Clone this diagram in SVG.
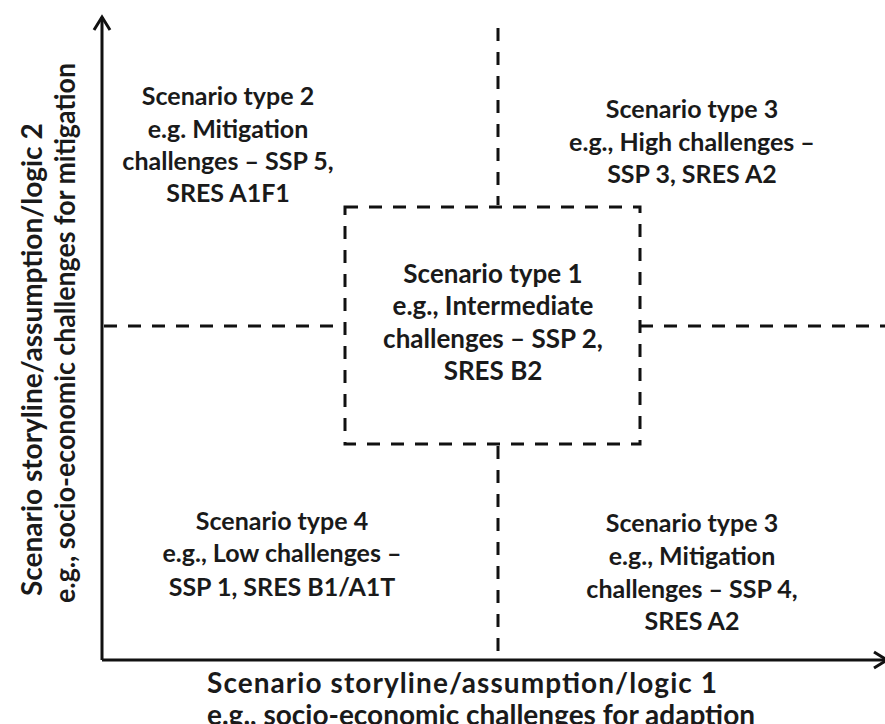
<svg xmlns="http://www.w3.org/2000/svg" width="885" height="724" viewBox="0 0 885 724">
<style>
.t{font-family:Lato,"Liberation Sans",sans-serif;font-weight:bold;font-size:25px;fill:#1a1a1a;text-anchor:middle}
.t1{font-size:26px}
.ax{font-family:Lato,"Liberation Sans",sans-serif;font-weight:bold;font-size:28px;fill:#1a1a1a}
.d{stroke:#111;stroke-width:3;fill:none;stroke-dasharray:13 11}
.a{stroke:#111;stroke-width:3;fill:none}
</style>
<defs>
<marker id="arr" viewBox="0 0 20 20" refX="17" refY="10" markerWidth="20" markerHeight="20" markerUnits="userSpaceOnUse" orient="auto">
<path d="M4 2 L17 10 L4 18" fill="none" stroke="#111" stroke-width="3"/>
</marker>
</defs>
<rect width="885" height="724" fill="#fff"/>
<g id="connectors">
<line class="a" x1="102" y1="660" x2="102" y2="17" marker-end="url(#arr)"/>
<line class="a" x1="102" y1="660" x2="887" y2="660" marker-end="url(#arr)"/>
<line class="d" x1="498" y1="28" x2="498" y2="205"/>
<line class="d" x1="498" y1="446" x2="498" y2="658"/>
<line class="d" x1="104" y1="326" x2="345" y2="326"/>
<line class="d" x1="640" y1="326" x2="885" y2="326"/>
</g>
<g id="type1">
<rect class="d" x="345" y="207" width="295" height="237"/>
<text class="t t1"><tspan x="493" y="283">Scenario type 1</tspan><tspan x="493" y="315">e.g., Intermediate</tspan><tspan x="493" y="348">challenges – SSP 2,</tspan><tspan x="493" y="380">SRES B2</tspan></text>
</g>
<g id="type2">
<text class="t"><tspan x="228" y="105">Scenario type 2</tspan><tspan x="228" y="138">e.g. Mitigation</tspan><tspan x="228" y="170">challenges – SSP 5,</tspan><tspan x="228" y="202">SRES A1F1</tspan></text>
</g>
<g id="type3top">
<text class="t"><tspan x="692" y="118">Scenario type 3</tspan><tspan x="692" y="151">e.g., High challenges –</tspan><tspan x="692" y="183">SSP 3, SRES A2</tspan></text>
</g>
<g id="type4">
<text class="t"><tspan x="282" y="530">Scenario type 4</tspan><tspan x="282" y="562">e.g., Low challenges –</tspan><tspan x="282" y="596">SSP 1, SRES B1/A1T</tspan></text>
</g>
<g id="type3bottom">
<text class="t"><tspan x="692" y="532">Scenario type 3</tspan><tspan x="692" y="565">e.g., Mitigation</tspan><tspan x="692" y="598">challenges – SSP 4,</tspan><tspan x="692" y="630">SRES A2</tspan></text>
</g>
<g id="xlabel">
<text class="ax"><tspan x="207" y="693" textLength="510" lengthAdjust="spacing">Scenario storyline/assumption/logic 1</tspan><tspan x="207" y="725">e.g., socio-economic challenges for adaption</tspan></text>
</g>
<g id="ylabel">
<text class="ax" transform="rotate(-90)"><tspan x="-596" y="42">Scenario storyline/assumption/logic 2</tspan><tspan x="-603" y="75" textLength="540" lengthAdjust="spacingAndGlyphs">e.g., socio-economic challenges for mitigation</tspan></text>
</g>
</svg>
